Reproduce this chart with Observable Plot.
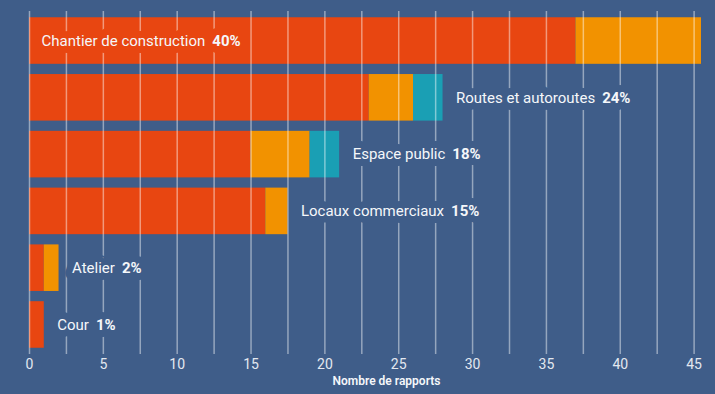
<!DOCTYPE html>
<html>
<head>
<meta charset="utf-8">
<script src="https://cdn.jsdelivr.net/npm/d3@7"></script>
<script src="https://cdn.jsdelivr.net/npm/@observablehq/plot@0.6"></script>
<style>
  html, body { margin: 0; padding: 0; background: #3f5d89; }
</style>
</head>
<body>
<div id="chart"></div>
<script>
const categories = ["Chantier de construction", "Routes et autoroutes", "Espace public", "Locaux commerciaux", "Atelier", "Cour"];
const percentLabels = ["40%", "24%", "18%", "15%", "2%", "1%"];
const labelInside = [true, false, false, false, false, false];
const seriesNames = ["Série A", "Série B", "Série C"];
const seriesA = [37, 23, 15, 16, 1, 1];
const seriesB = [8.5, 3, 4, 1.5, 1, 0];
const seriesC = [0, 2, 2, 0, 0, 0];
const seriesColors = ["#e84611", "#f29200", "#1a9fb4"];
const xTicks = [0, 5, 10, 15, 20, 25, 30, 35, 40, 45];
const gridValues = [0, 2.5, 5, 7.5, 10, 12.5, 15, 17.5, 20, 22.5, 25, 27.5, 30, 32.5, 35, 37.5, 40, 42.5, 45];
const axisTitle = "Nombre de rapports";

const bg = "#3f5d89";
const seriesValues = [seriesA, seriesB, seriesC];
const rows = [];
seriesValues.forEach((vals, s) => {
  categories.forEach((c, i) => rows.push({category: c, series: seriesNames[s], value: vals[i]}));
});
const labels = categories.map((c, i) => ({
  category: c,
  total: seriesA[i] + seriesB[i] + seriesC[i],
  text: c + "|" + percentLabels[i],
  inside: labelInside[i]
}));

const labelStyle = {
  y: "category",
  text: "text",
  textAnchor: "start",
  fill: "#f5f7fa",
  fontSize: 15,
  strokeWidth: 14,
  strokeLinejoin: "round",
  paintOrder: "stroke"
};

const svg = Plot.plot({
  width: 715,
  height: 394,
  marginTop: 11,
  marginBottom: 40,
  marginLeft: 29,
  marginRight: 14,
  style: {background: bg, color: "#e3e8f0", fontFamily: "Roboto, sans-serif", fontSize: "14px"},
  x: {domain: [0, 45.5], ticks: xTicks, tickSize: 0, tickPadding: 5, label: null},
  y: {domain: categories, axis: null, paddingInner: 0.18, paddingOuter: 0.11, round: false},
  color: {domain: seriesNames, range: seriesColors},
  marks: [
    Plot.barX(rows, {x: "value", y: "category", fill: "series", inset: 0}),
    Plot.ruleX(gridValues, {stroke: "white", strokeOpacity: 0.45, strokeWidth: 1.5}),
    Plot.text(labels.filter(d => d.inside), {...labelStyle, x: 0, dx: 12, stroke: seriesColors[0]}),
    Plot.text(labels.filter(d => !d.inside), {...labelStyle, x: "total", dx: 13, stroke: bg}),
    Plot.text([axisTitle], {frameAnchor: "bottom", dx: 21, dy: 30, fill: "#f5f7fa", fontSize: 12, fontWeight: 600})
  ]
});

d3.select(svg).selectAll("text").each(function() {
  const t = this.textContent;
  if (t.includes("|")) {
    const [name, pct] = t.split("|");
    const sel = d3.select(this);
    sel.attr("paint-order", "stroke");
    sel.text(null);
    sel.append("tspan").text(name);
    sel.append("tspan").attr("dx", 7).attr("font-weight", "bold").text(pct);
  }
});

document.getElementById("chart").appendChild(svg);
</script>
</body>
</html>
